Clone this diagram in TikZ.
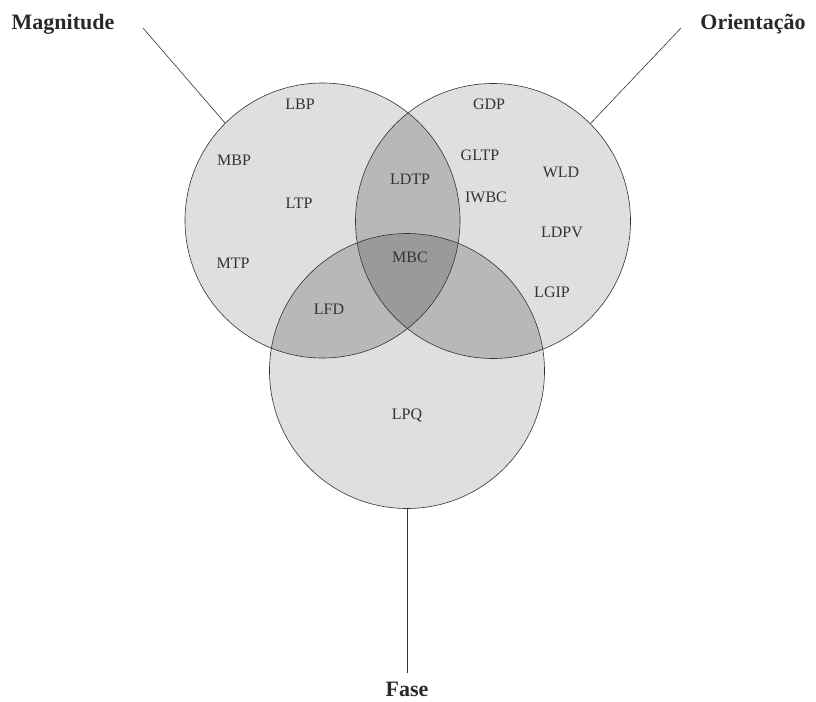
\documentclass[tikz,border=0pt]{standalone}
\usepackage{fontspec}
\setmainfont{Liberation Serif}
\definecolor{one}{HTML}{DFDFDF}
\definecolor{two}{HTML}{B8B8B8}
\definecolor{three}{HTML}{9A9A9A}
\definecolor{ink}{HTML}{333333}
\tikzset{
  ring/.style={circle,draw=ink,line width=0.6pt,minimum size=275pt,inner sep=0pt,outer sep=0pt},
  lbl/.style={anchor=base,font=\fontsize{16}{18}\selectfont,text=ink,inner sep=0pt},
  ttl/.style={anchor=base,font=\fontsize{22}{24}\selectfont\bfseries,text=ink!80!black,inner sep=0pt},
  lead/.style={draw=ink,line width=0.6pt}
}
\begin{document}
\begin{tikzpicture}[x=1pt,y=-1pt]
\useasboundingbox (0,0) rectangle (816,701);
\coordinate (Lc) at (322.5,220.5);
\coordinate (Rc) at (493,221);
\coordinate (Bc) at (407,371);
\def\rr{137.5pt}
% fills
\fill[one] (Lc) circle[radius=\rr];
\fill[one] (Rc) circle[radius=\rr];
\fill[one] (Bc) circle[radius=\rr];
\begin{scope}
  \clip (Lc) circle[radius=\rr];
  \fill[two] (Rc) circle[radius=\rr];
  \fill[two] (Bc) circle[radius=\rr];
\end{scope}
\begin{scope}
  \clip (Rc) circle[radius=\rr];
  \fill[two] (Bc) circle[radius=\rr];
\end{scope}
\begin{scope}
  \clip (Lc) circle[radius=\rr];
  \clip (Rc) circle[radius=\rr];
  \fill[three] (Bc) circle[radius=\rr];
\end{scope}
% outlines
\node[ring] (L) at (Lc) {};
\node[ring] (R) at (Rc) {};
\node[ring] (B) at (Bc) {};
% titles
\node[ttl] (mag) at (63,30) {Magnitude};
\node[ttl] (ori) at (753,30) {Orientação};
\node[ttl] (fas) at (407,696) {Fase};
\coordinate (mEnd) at (143,28);
\coordinate (oEnd) at (681,28);
\coordinate (fEnd) at (407,673);
\draw[lead] (mEnd) -- (L.135);
\draw[lead] (oEnd) -- (R.45);
\draw[lead] (B.south) -- (fEnd);
% labels
\node[lbl] (lbp) at (300,109.5) {LBP};
\node[lbl] (mbp) at (234,165.5) {MBP};
\node[lbl] (ltp) at (299,208.5) {LTP};
\node[lbl] (mtp) at (233,268.5) {MTP};
\node[lbl] (lfd) at (329,314.5) {LFD};
\node[lbl] (ldtp) at (410,184.5) {LDTP};
\node[lbl] (mbc) at (410,262.5) {MBC};
\node[lbl] (gdp) at (489,109.5) {GDP};
\node[lbl] (gltp) at (480,160.5) {GLTP};
\node[lbl] (wld) at (561,177.5) {WLD};
\node[lbl] (iwbc) at (486,202.5) {IWBC};
\node[lbl] (ldpv) at (562,237.5) {LDPV};
\node[lbl] (lgip) at (552,297.5) {LGIP};
\node[lbl] (lpq) at (407,419.5) {LPQ};
\end{tikzpicture}
\end{document}
